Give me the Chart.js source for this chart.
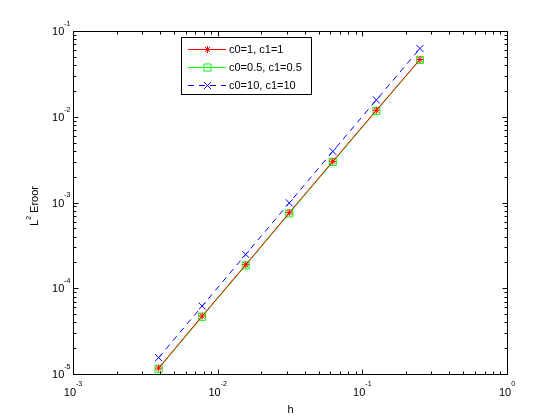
<!DOCTYPE html>
<html>
<head>
<meta charset="utf-8">
<script src="https://cdn.jsdelivr.net/npm/chart.js@4/dist/chart.umd.min.js"></script>
<style>
  html, body { margin: 0; padding: 0; background: #fff; }
  #wrap { width: 560px; height: 420px; }
</style>
</head>
<body>
<div id="wrap"><canvas id="chart" width="560" height="420"></canvas></div>
<script>
// mesh size h and L2 error for each (c0, c1) pair
const hValues = [0.00390625, 0.0078125, 0.015625, 0.03125, 0.0625, 0.125, 0.25];
const errC1 = [1.17e-5, 4.75e-5, 1.88e-4, 7.6e-4, 3.02e-3, 1.19e-2, 4.65e-2];
const errC05 = [1.15e-5, 4.65e-5, 1.85e-4, 7.45e-4, 2.96e-3, 1.17e-2, 4.6e-2];
const errC10 = [1.55e-5, 6.2e-5, 2.48e-4, 9.9e-4, 3.95e-3, 1.57e-2, 6.25e-2];
const seriesLabels = ["c0=1, c1=1", "c0=0.5, c1=0.5", "c0=10, c1=10"];
const xDecades = [-3, -2, -1, 0];
const yDecades = [-5, -4, -3, -2, -1];

const FONT = '"Liberation Sans", Arial, sans-serif';

const series = [
  { label: seriesLabels[0], values: errC1, color: "#ff0000", style: "star", radius: 3.5, dash: [] },
  { label: seriesLabels[1], values: errC05, color: "#00ff00", style: "rect", radius: 5, dash: [] },
  { label: seriesLabels[2], values: errC10, color: "#0000ff", style: "crossRot", radius: 5, dash: [6, 5] }
];

function drawMarker(ctx, style, x, y, r) {
  const d = r * Math.SQRT1_2;
  ctx.beginPath();
  if (style === "rect") {
    ctx.rect(x - d, y - d, 2 * d, 2 * d);
  } else {
    ctx.moveTo(x - d, y - d); ctx.lineTo(x + d, y + d);
    ctx.moveTo(x - d, y + d); ctx.lineTo(x + d, y - d);
    if (style === "star") {
      ctx.moveTo(x - r, y); ctx.lineTo(x + r, y);
      ctx.moveTo(x, y - r); ctx.lineTo(x, y + r);
    }
  }
  ctx.stroke();
}

const matlabAxes = {
  id: "matlabAxes",
  afterDraw(chart) {
    const { ctx, chartArea: a, scales } = chart;
    const L = Math.round(a.left) + 0.5, R = Math.round(a.right) + 0.5;
    const T = Math.round(a.top) + 0.5, B = Math.round(a.bottom) + 0.5;
    ctx.save();
    ctx.strokeStyle = "#000";
    ctx.lineWidth = 1;
    ctx.setLineDash([]);
    ctx.strokeRect(L, T, R - L, B - T);

    // inward ticks on all four sides
    ctx.beginPath();
    xDecades.forEach((d, i) => {
      for (let m = 1; m <= 9; m++) {
        if (m > 1 && i === xDecades.length - 1) break;
        const px = Math.round(scales.x.getPixelForValue(m * Math.pow(10, d))) + 0.5;
        const len = m === 1 ? 5 : 3;
        ctx.moveTo(px, B); ctx.lineTo(px, B - len);
        ctx.moveTo(px, T); ctx.lineTo(px, T + len);
      }
    });
    yDecades.forEach((d, i) => {
      for (let m = 1; m <= 9; m++) {
        if (m > 1 && i === yDecades.length - 1) break;
        const py = Math.round(scales.y.getPixelForValue(m * Math.pow(10, d))) + 0.5;
        const len = m === 1 ? 5 : 3;
        ctx.moveTo(L, py); ctx.lineTo(L + len, py);
        ctx.moveTo(R, py); ctx.lineTo(R - len, py);
      }
    });
    ctx.stroke();

    // tick labels 10^n
    ctx.fillStyle = "#000";
    ctx.textBaseline = "middle";
    ctx.textAlign = "left";
    const base = "10";
    const measure = (t, size) => { ctx.font = size + "px " + FONT; return ctx.measureText(t).width; };
    xDecades.forEach((d) => {
      const px = scales.x.getPixelForValue(Math.pow(10, d));
      const e = String(d);
      const w1 = measure(base, 11), w2 = measure(e, 7);
      const x0 = px - (w1 + w2) / 2;
      ctx.font = "11px " + FONT; ctx.fillText(base, x0, 393);
      ctx.font = "7px " + FONT; ctx.fillText(e, x0 + w1, 384);
    });
    yDecades.forEach((d) => {
      const py = scales.y.getPixelForValue(Math.pow(10, d));
      const e = String(d);
      const w1 = measure(base, 11), w2 = measure(e, 7);
      const end = L - 3;
      ctx.font = "11px " + FONT; ctx.fillText(base, end - w2 - w1, py + 1);
      ctx.font = "7px " + FONT; ctx.fillText(e, end - w2, py - 7);
    });

    // axis titles
    ctx.font = "11px " + FONT;
    ctx.textAlign = "center";
    ctx.fillText("h", (L + R) / 2, 410);

    ctx.save();
    ctx.translate(35, 206);
    ctx.rotate(-Math.PI / 2);
    const wL = measure("L", 11), w2 = measure("2", 7), wE = measure(" Eroor", 11);
    let x = -(wL + w2 + wE) / 2;
    ctx.textAlign = "left";
    ctx.font = "11px " + FONT; ctx.fillText("L", x, 0); x += wL;
    ctx.font = "7px " + FONT; ctx.fillText("2", x, -6); x += w2;
    ctx.font = "11px " + FONT; ctx.fillText(" Eroor", x, 0);
    ctx.restore();

    // legend box inside the axes
    ctx.textAlign = "left";
    const bx = 181.5, by = 37.5, bw = 130, bh = 57;
    ctx.fillStyle = "#fff";
    ctx.fillRect(bx, by, bw, bh);
    ctx.strokeStyle = "#000";
    ctx.strokeRect(bx, by, bw, bh);
    const rows = [49, 67, 85];
    series.forEach((s, i) => {
      const y = rows[i] + 0.5;
      ctx.strokeStyle = s.color;
      ctx.setLineDash(s.dash);
      ctx.beginPath(); ctx.moveTo(188, y); ctx.lineTo(226, y); ctx.stroke();
      ctx.setLineDash([]);
      drawMarker(ctx, s.style, 207.5, y, s.radius);
      ctx.fillStyle = "#000";
      ctx.font = "11px " + FONT;
      ctx.fillText(s.label, 229, rows[i] + 1);
    });
    ctx.restore();
  }
};

new Chart(document.getElementById("chart"), {
  type: "line",
  data: {
    datasets: series.map((s) => ({
      label: s.label,
      data: hValues.map((h, i) => ({ x: h, y: s.values[i] })),
      borderColor: s.color,
      backgroundColor: "transparent",
      borderWidth: 1,
      borderDash: s.dash,
      tension: 0,
      pointStyle: s.style,
      pointRadius: s.radius,
      pointBorderColor: s.color,
      pointBackgroundColor: "transparent",
      pointBorderWidth: 1
    }))
  },
  options: {
    responsive: false,
    animation: false,
    devicePixelRatio: 1,
    layout: { padding: { left: 73, right: 53, top: 31, bottom: 46 } },
    plugins: { legend: { display: false }, tooltip: { enabled: false } },
    scales: {
      x: { type: "logarithmic", min: 1e-3, max: 1, display: false },
      y: { type: "logarithmic", min: 1e-5, max: 1e-1, display: false }
    }
  },
  plugins: [matlabAxes]
});
</script>
</body>
</html>
